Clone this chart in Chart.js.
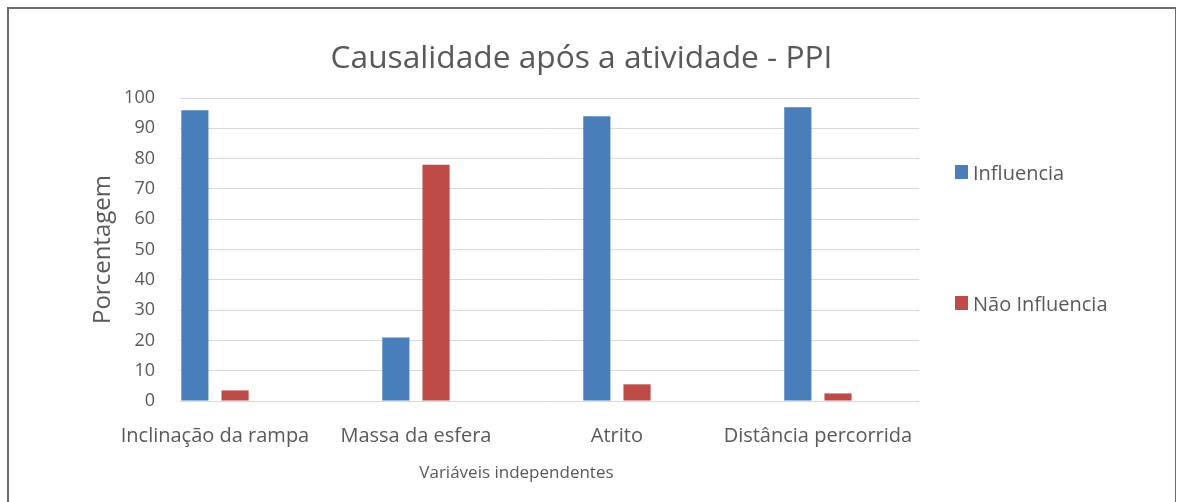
<!DOCTYPE html>
<html>
<head>
<meta charset="utf-8">
<script src="https://cdn.jsdelivr.net/npm/chart.js@4.4.1/dist/chart.umd.min.js"></script>
<style>
  body { margin: 0; background: #fff; font-family: "Open Sans", sans-serif; overflow: hidden; }
  #box { position: absolute; left: 7px; top: 7px; width: 1169px; height: 500px; border: 2px solid #6b6b6b; border-right-width: 1px; border-bottom: none; box-sizing: border-box; }
  #plot { position: absolute; left: 0; top: 0; width: 1166px; height: 486px; }
  #legend { position: absolute; left: 946px; top: 0; }
  .item { position: absolute; display: flex; align-items: center; height: 28px; white-space: nowrap; font-size: 20px; color: #595959; }
  .sw { display: inline-block; width: 13px; height: 14px; margin-right: 5px; }
</style>
</head>
<body>
<div id="box">
  <div id="plot"><canvas id="myChart"></canvas></div>
  <div id="legend"></div>
</div>
<script>
var categories = ["Inclinação da rampa", "Massa da esfera", "Atrito", "Distância percorrida"];
var influencia = [96, 21, 94, 97];
var naoInfluencia = [3.5, 78, 5.5, 2.5];
var seriesNames = ["Influencia", "Não Influencia"];
var yTicks = [0, 10, 20, 30, 40, 50, 60, 70, 80, 90, 100];
var xTitle = "Variáveis independentes";

var blue = "#4a7ebb";
var red = "#be4b48";
var textColor = "#595959";

function points(values) {
  return values.map(function (v, i) { return { x: i, y: v }; });
}

// Excel centres the x axis title over the span of the category labels,
// not over the plot area, so it is drawn here instead of by the scale
var xTitlePlugin = {
  id: "xTitle",
  afterDraw: function (chart) {
    var xs = chart.scales.x;
    var ctx = chart.ctx;
    var last = categories.length - 1;
    ctx.save();
    ctx.font = "20px 'Open Sans'";
    var left = xs.getPixelForValue(0) - ctx.measureText(categories[0]).width / 2;
    var right = xs.getPixelForValue(last) + ctx.measureText(categories[last]).width / 2;
    ctx.font = "17px 'Open Sans'";
    ctx.fillStyle = textColor;
    ctx.textAlign = "center";
    ctx.textBaseline = "middle";
    ctx.fillText(xTitle, (left + right) / 2, xs.bottom - 14);
    ctx.restore();
  }
};

var chart = new Chart("myChart", {
  type: "bar",
  data: {
    datasets: [
      { label: seriesNames[0], data: points(influencia), backgroundColor: blue },
      { label: seriesNames[1], data: points(naoInfluencia), backgroundColor: red }
    ]
  },
  plugins: [xTitlePlugin],
  options: {
    responsive: true,
    maintainAspectRatio: false,
    animation: false,
    categoryPercentage: 0.4,
    barPercentage: 0.675,
    layout: { padding: { left: 0, right: 21, top: 31, bottom: 8 } },
    plugins: {
      legend: { display: false },
      tooltip: { enabled: false },
      title: {
        display: true,
        text: "Causalidade após a atividade - PPI",
        color: textColor,
        font: { family: "Open Sans", size: 31.7, weight: "normal" },
        padding: { top: 0, bottom: 20 }
      }
    },
    scales: {
      x: {
        type: "linear",
        offset: false,
        min: -0.174,
        max: 3.503,
        grid: { display: false, drawTicks: false, offset: false },
        border: { display: false },
        afterBuildTicks: function (scale) {
          scale.ticks = categories.map(function (c, i) { return { value: i }; });
        },
        afterFit: function (scale) { scale.height = 86; },
        ticks: {
          autoSkip: false,
          maxRotation: 0,
          color: textColor,
          font: { family: "Open Sans", size: 20 },
          padding: 23,
          callback: function (v) { return categories[v]; }
        }
      },
      y: {
        min: 0,
        max: 100,
        afterBuildTicks: function (scale) {
          scale.ticks = yTicks.map(function (v) { return { value: v }; });
        },
        afterFit: function (scale) { scale.width = 171; },
        grid: { color: "#d9d9d9", drawTicks: false },
        border: { display: false },
        ticks: {
          color: textColor,
          font: { family: "Open Sans", size: 18 },
          padding: 25
        },
        title: {
          display: true,
          text: "Porcentagem",
          color: textColor,
          font: { family: "Open Sans", size: 24 },
          padding: { top: 80, bottom: 0 }
        }
      },
      // empty axis that keeps room on the right for the legend
      legendSpace: {
        position: "right",
        grid: { display: false, drawTicks: false },
        border: { display: false },
        ticks: { display: false },
        afterFit: function (scale) { scale.width = 235; }
      }
    }
  }
});

// legend built from the datasets, placed like the original
var legendTops = [149, 280];
var legendBox = document.getElementById("legend");
chart.data.datasets.forEach(function (ds, i) {
  var item = document.createElement("div");
  item.className = "item";
  item.style.top = legendTops[i] + "px";
  item.innerHTML = '<span class="sw" style="background:' + ds.backgroundColor + '"></span>' + ds.label;
  legendBox.appendChild(item);
});
</script>
</body>
</html>
